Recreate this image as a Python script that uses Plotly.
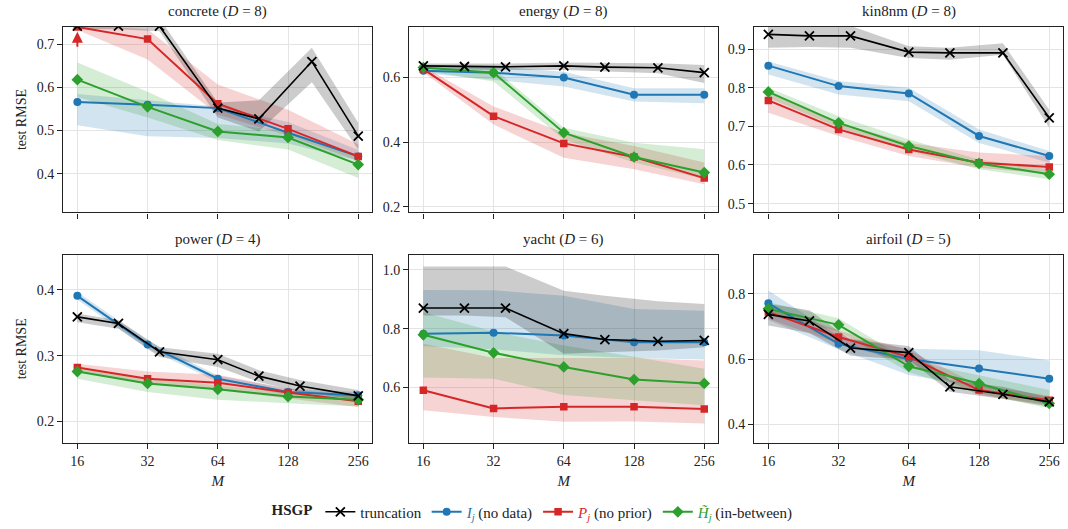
import numpy as np
import plotly.graph_objects as go

# ---------------- data ----------------
M = [16, 32, 64, 128, 256]
tick_labels = ["16", "32", "64", "128", "256"]

datasets = ["concrete", "energy", "kin8nm", "power", "yacht", "airfoil"]
dims = [8, 8, 8, 4, 6, 5]

# concrete
concrete_I = [0.566, 0.560, 0.552, 0.495, 0.440]
concrete_I_lo = [0.512, 0.487, 0.483, 0.470, 0.430]
concrete_I_hi = [0.585, 0.570, 0.556, 0.520, 0.455]
concrete_P = [0.740, 0.712, 0.562, 0.504, 0.440]
concrete_P_lo = [0.733, 0.665, 0.537, 0.488, 0.430]
concrete_P_hi = [0.745, 0.735, 0.607, 0.548, 0.468]
concrete_H = [0.618, 0.555, 0.498, 0.484, 0.421]
concrete_H_lo = [0.578, 0.530, 0.478, 0.456, 0.390]
concrete_H_hi = [0.658, 0.590, 0.515, 0.500, 0.441]
concrete_TM = [16, 24, 36, 64, 96, 162, 256]
concrete_T = [0.742, 0.742, 0.742, 0.552, 0.527, 0.660, 0.487]
concrete_T_lo = [0.735, 0.735, 0.730, 0.530, 0.498, 0.612, 0.456]
concrete_T_hi = [0.760, 0.760, 0.760, 0.565, 0.570, 0.692, 0.518]
concrete_arrow = [0.691, 0.729]  # off-chart indicator (tail, head)

# energy
energy_I = [0.620, 0.614, 0.599, 0.546, 0.546]
energy_I_lo = [0.612, 0.592, 0.571, 0.525, 0.520]
energy_I_hi = [0.628, 0.633, 0.617, 0.566, 0.566]
energy_P = [0.625, 0.480, 0.396, 0.354, 0.289]
energy_P_lo = [0.615, 0.454, 0.352, 0.316, 0.270]
energy_P_hi = [0.633, 0.510, 0.429, 0.388, 0.337]
energy_H = [0.630, 0.614, 0.429, 0.354, 0.306]
energy_H_lo = [0.620, 0.587, 0.408, 0.337, 0.286]
energy_H_hi = [0.638, 0.628, 0.444, 0.398, 0.378]
energy_TM = [16, 24, 36, 64, 96, 162, 256]
energy_T = [0.635, 0.633, 0.632, 0.635, 0.631, 0.629, 0.614]
energy_T_lo = [0.625, 0.623, 0.622, 0.622, 0.618, 0.612, 0.582]
energy_T_hi = [0.642, 0.642, 0.642, 0.645, 0.644, 0.643, 0.638]

# kin8nm
kin8nm_I = [0.857, 0.804, 0.785, 0.675, 0.623]
kin8nm_I_lo = [0.834, 0.782, 0.765, 0.657, 0.606]
kin8nm_I_hi = [0.868, 0.817, 0.800, 0.692, 0.636]
kin8nm_P = [0.767, 0.692, 0.640, 0.606, 0.595]
kin8nm_P_lo = [0.735, 0.675, 0.623, 0.593, 0.576]
kin8nm_P_hi = [0.786, 0.709, 0.657, 0.632, 0.623]
kin8nm_H = [0.789, 0.709, 0.649, 0.604, 0.576]
kin8nm_H_lo = [0.774, 0.696, 0.636, 0.589, 0.563]
kin8nm_H_hi = [0.800, 0.726, 0.666, 0.614, 0.589]
kin8nm_TM = [16, 24, 36, 64, 96, 162, 256]
kin8nm_T = [0.938, 0.934, 0.934, 0.892, 0.890, 0.890, 0.722]
kin8nm_T_lo = [0.903, 0.905, 0.903, 0.877, 0.872, 0.885, 0.696]
kin8nm_T_hi = [0.960, 0.960, 0.960, 0.907, 0.903, 0.915, 0.743]

# power
power_I = [0.391, 0.317, 0.265, 0.245, 0.240]
power_I_lo = [0.385, 0.311, 0.260, 0.240, 0.235]
power_I_hi = [0.397, 0.323, 0.270, 0.250, 0.245]
power_P = [0.282, 0.265, 0.259, 0.244, 0.231]
power_P_lo = [0.276, 0.258, 0.248, 0.235, 0.222]
power_P_hi = [0.288, 0.276, 0.271, 0.250, 0.238]
power_H = [0.276, 0.258, 0.249, 0.238, 0.233]
power_H_lo = [0.265, 0.245, 0.233, 0.228, 0.223]
power_H_hi = [0.281, 0.265, 0.255, 0.245, 0.238]
power_TM = [16, 24, 36, 64, 96, 144, 256]
power_T = [0.359, 0.349, 0.306, 0.294, 0.269, 0.254, 0.239]
power_T_lo = [0.351, 0.341, 0.298, 0.283, 0.260, 0.245, 0.233]
power_T_hi = [0.364, 0.354, 0.313, 0.303, 0.278, 0.263, 0.248]

# yacht
yacht_I = [0.783, 0.786, 0.777, 0.754, 0.754]
yacht_I_lo = [0.740, 0.730, 0.710, 0.700, 0.695]
yacht_I_hi = [0.931, 0.930, 0.912, 0.867, 0.861]
yacht_P = [0.591, 0.529, 0.535, 0.535, 0.527]
yacht_P_lo = [0.523, 0.500, 0.484, 0.485, 0.478]
yacht_P_hi = [0.749, 0.700, 0.700, 0.700, 0.692]
yacht_H = [0.779, 0.718, 0.670, 0.627, 0.614]
yacht_H_lo = [0.634, 0.630, 0.575, 0.557, 0.540]
yacht_H_hi = [0.856, 0.790, 0.743, 0.705, 0.664]
yacht_TM = [16, 24, 36, 64, 96, 162, 256]
yacht_T = [0.870, 0.870, 0.870, 0.783, 0.763, 0.757, 0.760]
yacht_T_lo = [0.845, 0.845, 0.839, 0.715, 0.720, 0.726, 0.737]
yacht_T_hi = [1.011, 1.011, 1.011, 0.929, 0.912, 0.893, 0.884]

# airfoil
airfoil_I = [0.771, 0.647, 0.600, 0.571, 0.540]
airfoil_I_lo = [0.720, 0.630, 0.551, 0.515, 0.474]
airfoil_I_hi = [0.810, 0.670, 0.632, 0.627, 0.596]
airfoil_P = [0.744, 0.668, 0.607, 0.505, 0.474]
airfoil_P_lo = [0.724, 0.648, 0.587, 0.490, 0.460]
airfoil_P_hi = [0.764, 0.688, 0.627, 0.520, 0.488]
airfoil_H = [0.754, 0.705, 0.578, 0.525, 0.464]
airfoil_H_lo = [0.735, 0.685, 0.560, 0.495, 0.449]
airfoil_H_hi = [0.774, 0.725, 0.596, 0.551, 0.505]
airfoil_TM = [16, 24, 36, 64, 96, 162, 256]
airfoil_T = [0.737, 0.717, 0.634, 0.620, 0.515, 0.492, 0.469]
airfoil_T_lo = [0.703, 0.680, 0.610, 0.598, 0.500, 0.478, 0.455]
airfoil_T_hi = [0.770, 0.750, 0.660, 0.640, 0.535, 0.515, 0.483]

y_ranges = [[0.310, 0.741], [0.183, 0.756], [0.477, 0.958],
            [0.168, 0.453], [0.413, 1.050], [0.344, 0.919]]
y_dticks = [0.1, 0.2, 0.1, 0.1, 0.2, 0.2]

# ---------------- style ----------------
FONT = "Liberation Serif, DejaVu Serif, serif"
C_I, C_P, C_H, C_T = "#1f77b4", "#d62728", "#2ca02c", "#000000"
F_I, F_P, F_H, F_T = ("rgba(31,119,180,0.2)", "rgba(214,39,40,0.2)",
                      "rgba(44,160,44,0.2)", "rgba(0,0,0,0.2)")

W, H = 1068, 529
col_px = [(63.3, 372.3), (409.3, 718.3), (754.3, 1063.3)]
row_px = [(26.7, 213.3), (256.0, 444.3)]

fig = go.Figure()

g = globals()
leg_names = {
    "T": "truncation",
    "I": "<span style='color:%s'><i>I</i><sub><i>j</i></sub></span> (no data)" % C_I,
    "P": "<span style='color:%s'><i>P</i><sub><i>j</i></sub></span> (no prior)" % C_P,
    "H": "<span style='color:%s'><i>H\u0303</i><sub><i>j</i></sub></span> (in-between)" % C_H,
}
sty = {
    "I": dict(color=C_I, fill=F_I, symbol="circle", size=8, lw=2),
    "P": dict(color=C_P, fill=F_P, symbol="square", size=7.5, lw=2),
    "H": dict(color=C_H, fill=F_H, symbol="diamond", size=9, lw=2),
    "T": dict(color=C_T, fill=F_T, symbol="x-thin", size=9, lw=1.6),
}

xr = [np.log10(16) - 0.2 * np.log10(2), np.log10(256) + 0.2 * np.log10(2)]

for k, name in enumerate(datasets):
    r, c = divmod(k, 3)
    idx = "" if k == 0 else str(k + 1)
    xa, ya = "x" + idx, "y" + idx
    x0, x1 = col_px[c]
    y0, y1 = row_px[r]
    layout_x = dict(
        domain=[x0 / W, x1 / W], type="log", range=xr, anchor=ya,
        tickvals=M, ticktext=tick_labels, showticklabels=(r == 1),
        ticks="outside", ticklen=5, tickwidth=1.2, tickcolor="#222",
        showline=True, linecolor="#222", linewidth=1.3, mirror=True,
        showgrid=True, gridcolor="#e4e4e4", gridwidth=1, zeroline=False,
        tickfont=dict(family=FONT, size=14, color="#222"),
    )
    if r == 1:
        layout_x["title"] = dict(text="<i>M</i>", standoff=7,
                                 font=dict(family=FONT, size=15, color="#222"))
    layout_y = dict(
        domain=[1 - y1 / H, 1 - y0 / H], range=y_ranges[k], anchor=xa,
        dtick=y_dticks[k], tick0=0, tickformat=".1f",
        ticks="outside", ticklen=5, tickwidth=1.2, tickcolor="#222",
        showline=True, linecolor="#222", linewidth=1.3, mirror=True,
        showgrid=True, gridcolor="#e4e4e4", gridwidth=1, zeroline=False,
        tickfont=dict(family=FONT, size=14, color="#222"),
    )
    if c == 0:
        layout_y["title"] = dict(text="test RMSE", standoff=6,
                                 font=dict(family=FONT, size=14, color="#222"))
    fig.update_layout(**{"xaxis" + idx: layout_x, "yaxis" + idx: layout_y})

    # bands
    for key in ["I", "P", "H", "T"]:
        xs = g[f"{name}_TM"] if key == "T" else M
        lo, hi = g[f"{name}_{key}_lo"], g[f"{name}_{key}_hi"]
        fig.add_trace(go.Scatter(
            x=list(xs) + list(xs)[::-1], y=list(hi) + list(lo)[::-1],
            fill="toself", fillcolor=sty[key]["fill"], line=dict(width=0),
            mode="lines", hoverinfo="skip", showlegend=False,
            xaxis=xa, yaxis=ya))
    # lines
    for key in ["I", "P", "H", "T"]:
        xs = g[f"{name}_TM"] if key == "T" else M
        s = sty[key]
        mk = dict(symbol=s["symbol"], size=s["size"], color=s["color"])
        if key == "T":
            mk["line"] = dict(color=s["color"], width=1.8)
        fig.add_trace(go.Scatter(
            x=xs, y=g[f"{name}_{key}"], mode="lines+markers",
            line=dict(color=s["color"], width=s["lw"]), marker=mk,
            name=leg_names[key], legendgroup=key, showlegend=(k == 0),
            legendrank={"T": 1, "I": 2, "P": 3, "H": 4}[key],
            xaxis=xa, yaxis=ya))

    fig.add_annotation(
        x=(x0 + x1) / 2 / W, y=1 - (y0 - 5) / H, xref="paper", yref="paper",
        xanchor="center", yanchor="bottom", showarrow=False,
        text=f"{name} (<i>D</i> = {dims[k]})",
        font=dict(family=FONT, size=15, color="#222"))

# off-chart arrow in concrete
fig.add_annotation(
    x=np.log10(M[0]), y=concrete_arrow[1], ax=np.log10(M[0]), ay=concrete_arrow[0],
    xref="x", yref="y", axref="x", ayref="y", showarrow=True,
    arrowhead=2, arrowsize=1.1, arrowwidth=2, arrowcolor=C_P, text="")

fig.update_layout(
    width=W, height=H, margin=dict(l=0, r=0, t=0, b=0),
    paper_bgcolor="white", plot_bgcolor="white",
    font=dict(family=FONT, size=14, color="#222"),
    showlegend=True,
    legend=dict(orientation="h", x=0.5, xanchor="center", y=(H - 514) / H,
                yanchor="middle", title=dict(text="<b>HSGP</b>", side="left",
                                             font=dict(family=FONT, size=15)),
                font=dict(family=FONT, size=15), itemwidth=30,
                tracegroupgap=0, bgcolor="rgba(0,0,0,0)"),
)

fig.write_html("out.html")
